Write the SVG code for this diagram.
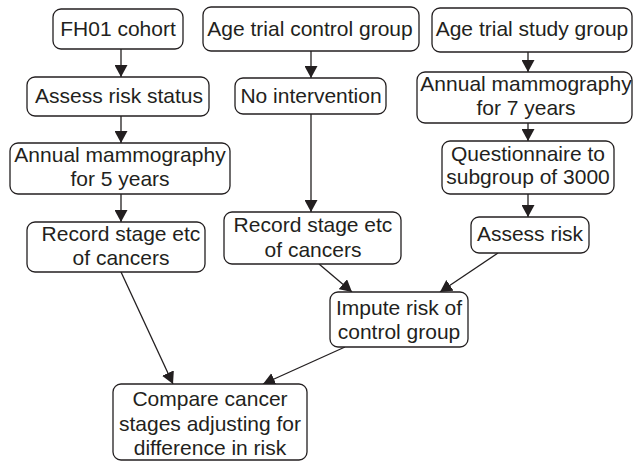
<svg xmlns="http://www.w3.org/2000/svg" width="633" height="462" viewBox="0 0 633 462">
<style>
.box{fill:#fff;stroke:#231f20;stroke-width:1.3}
text{font-family:"Liberation Sans",Arial,sans-serif;font-size:21px;fill:#231f20;text-anchor:middle}
.c line{stroke:#231f20;stroke-width:1.3;marker-end:url(#ah)}
</style>
<defs>
<marker id="ah" markerUnits="userSpaceOnUse" markerWidth="12" markerHeight="13" refX="12" refY="6.5" orient="auto">
<path d="M0,0 L12,6.5 L0,13 z" fill="#231f20"/>
</marker>
</defs>
<rect width="633" height="462" fill="#fff"/>
<g class="c" id="connectors">
<line x1="121" y1="49" x2="121" y2="77"/>
<line x1="121" y1="116" x2="121" y2="143"/>
<line x1="121" y1="194" x2="121" y2="222"/>
<line x1="311" y1="51" x2="311" y2="78"/>
<line x1="311" y1="114" x2="311" y2="212"/>
<line x1="528" y1="52" x2="528" y2="72"/>
<line x1="528" y1="123" x2="528" y2="141"/>
<line x1="528" y1="194" x2="528" y2="217"/>
<line x1="121" y1="272" x2="173" y2="384"/>
<line x1="345" y1="347" x2="263" y2="384"/>
<line x1="319" y1="264" x2="352" y2="292"/>
<line x1="498" y1="253" x2="440" y2="292"/>
</g>
<g id="n1"><rect class="box" x="53" y="9" width="130" height="40" rx="8"/><text x="118" y="36">FH01 cohort</text></g>
<g id="n2"><rect class="box" x="27" y="77" width="182" height="39" rx="8"/><text x="119" y="103">Assess risk status</text></g>
<g id="n3"><rect class="box" x="10" y="143" width="220" height="51" rx="8"/><text x="120" y="162">Annual mammography</text><text x="120" y="186">for 5 years</text></g>
<g id="n4"><rect class="box" x="27" y="222" width="178" height="50" rx="8"/><text x="121" y="241">Record stage etc</text><text x="121" y="265">of cancers</text></g>
<g id="n5"><rect class="box" x="203" y="7" width="216" height="44" rx="8"/><text x="310" y="36">Age trial control group</text></g>
<g id="n6"><rect class="box" x="235" y="78" width="151" height="36" rx="8"/><text x="311" y="103">No intervention</text></g>
<g id="n7"><rect class="box" x="224" y="212" width="177" height="52" rx="8"/><text x="313" y="232">Record stage etc</text><text x="313" y="257">of cancers</text></g>
<g id="n8"><rect class="box" x="432" y="8" width="200" height="44" rx="8"/><text x="532" y="36">Age trial study group</text></g>
<g id="n9"><rect class="box" x="417" y="72" width="215" height="51" rx="8"/><text x="526" y="91">Annual mammography</text><text x="526" y="115">for 7 years</text></g>
<g id="n10"><rect class="box" x="442" y="141" width="172" height="53" rx="8"/><text x="528" y="161">Questionnaire to</text><text x="528" y="184">subgroup of 3000</text></g>
<g id="n11"><rect class="box" x="471" y="217" width="118" height="36" rx="8"/><text x="530" y="241">Assess risk</text></g>
<g id="n12"><rect class="box" x="330" y="292" width="138" height="55" rx="8"/><text x="399" y="315">Impute risk of</text><text x="399" y="339">control group</text></g>
<g id="n13"><rect class="box" x="113" y="384" width="194" height="76" rx="8"/><text x="210" y="406">Compare cancer</text><text x="210" y="431">stages adjusting for</text><text x="210" y="455">difference in risk</text></g>
</svg>
